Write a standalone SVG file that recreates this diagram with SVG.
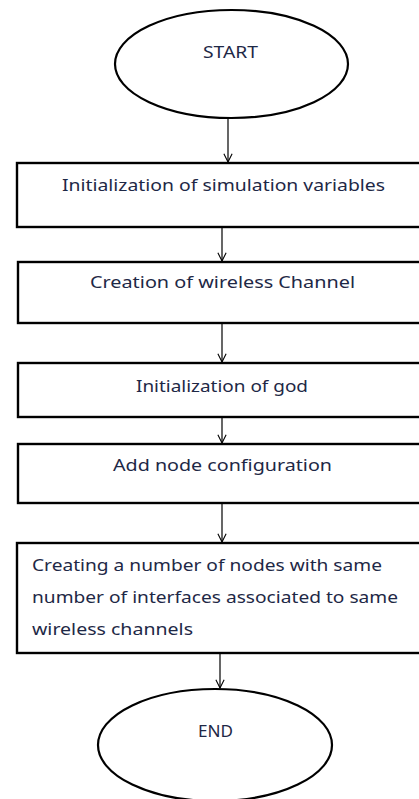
<svg xmlns="http://www.w3.org/2000/svg" width="419" height="799" viewBox="0 0 419 799">
<defs>
<style>
.shape{fill:#fff;stroke:#000;stroke-width:2.4}
.term{fill:#fff;stroke:#000;stroke-width:2.2}
.lbl{font-family:"Noto Sans","Open Sans",sans-serif;font-size:17px;fill:#1e2846}
.conn{stroke:#000;stroke-width:1.2;fill:none}
</style>
<marker id="arr" viewBox="0 0 12 12" refX="11" refY="6" markerWidth="11" markerHeight="11" markerUnits="userSpaceOnUse" orient="auto">
<path d="M2,1.5 L11,6 L2,10.5" fill="none" stroke="#000" stroke-width="1.2"/>
</marker>
</defs>
<rect width="419" height="799" fill="#fff"/>
<g id="connectors">
<line class="conn" x1="228" y1="118" x2="228" y2="162" marker-end="url(#arr)"/>
<line class="conn" x1="222" y1="227" x2="222" y2="261" marker-end="url(#arr)"/>
<line class="conn" x1="222" y1="323" x2="222" y2="362" marker-end="url(#arr)"/>
<line class="conn" x1="222" y1="417" x2="222" y2="443" marker-end="url(#arr)"/>
<line class="conn" x1="222" y1="503" x2="222" y2="542" marker-end="url(#arr)"/>
<line class="conn" x1="220" y1="653" x2="220" y2="688" marker-end="url(#arr)"/>
</g>
<g id="start">
<ellipse class="term" cx="231.5" cy="64" rx="116.5" ry="54"/>
<text class="lbl" x="203" y="58" textLength="55" lengthAdjust="spacingAndGlyphs">START</text>
</g>
<g id="init-vars">
<rect class="shape" x="17" y="163" width="420" height="64"/>
<text class="lbl" x="62" y="191" textLength="323" lengthAdjust="spacingAndGlyphs">Initialization of simulation variables</text>
</g>
<g id="create-channel">
<rect class="shape" x="18" y="262" width="420" height="61"/>
<text class="lbl" x="90" y="288" textLength="265" lengthAdjust="spacingAndGlyphs">Creation of wireless Channel</text>
</g>
<g id="init-god">
<rect class="shape" x="18" y="363" width="420" height="54"/>
<text class="lbl" x="136" y="392" textLength="172" lengthAdjust="spacingAndGlyphs">Initialization of god</text>
</g>
<g id="node-config">
<rect class="shape" x="18" y="444" width="420" height="59"/>
<text class="lbl" x="113" y="471" textLength="219" lengthAdjust="spacingAndGlyphs">Add node configuration</text>
</g>
<g id="create-nodes">
<rect class="shape" x="17" y="543" width="420" height="110"/>
<text class="lbl" x="32" y="571" textLength="350" lengthAdjust="spacingAndGlyphs">Creating a number of nodes with same</text>
<text class="lbl" x="32" y="603" textLength="366" lengthAdjust="spacingAndGlyphs">number of interfaces associated to same</text>
<text class="lbl" x="32" y="635" textLength="161" lengthAdjust="spacingAndGlyphs">wireless channels</text>
</g>
<g id="end">
<ellipse class="term" cx="215" cy="745" rx="117" ry="56"/>
<text class="lbl" x="198" y="737" textLength="35" lengthAdjust="spacingAndGlyphs">END</text>
</g>
</svg>
